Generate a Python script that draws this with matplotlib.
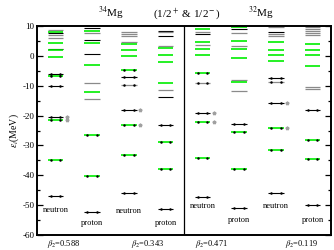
import matplotlib
matplotlib.use('Agg')
import matplotlib.pyplot as plt


# level energies (MeV) for each column, top to bottom
levels = [
    [8.6, 8.0, 7.5, 7.1, 6.0, 4.4, 2.4, 2.0, -0.5, -6.0, -6.9, -10.0, -20.4, -21.6, -35.0, -47.0],
    [9.2, 8.4, 7.8, 5.3, 4.4, 0.6, -3.2, -9.2, -12.0, -14.6, -26.6, -40.4, -52.3],
    [8.0, 7.3, 6.7, 4.6, 3.9, 2.0, 0.0, -4.9, -7.2, -9.6, -18.2, -23.1, -33.3, -45.9],
    [8.3, 7.9, 6.7, 3.2, 2.5, 0.3, -1.9, -9.1, -11.3, -13.8, -23.0, -28.7, -37.9, -51.3],
    [8.9, 8.0, 7.2, 4.7, 3.8, 2.4, 0.2, -5.6, -9.1, -19.1, -22.0, -34.3, -47.4],
    [9.8, 8.9, 7.6, 4.9, 3.3, 2.3, -0.8, -8.2, -8.7, -11.9, -22.7, -25.6, -37.8, -50.9],
    [9.7, 7.9, 7.2, 6.6, 4.7, 2.0, 0.4, -1.8, -7.5, -8.7, -15.7, -24.2, -31.6, -46.0],
    [9.8, 9.1, 8.4, 7.8, 7.1, 3.9, 2.0, 0.4, -3.4, -10.4, -11.1, -18.0, -28.1, -34.6, -50.1],
]
# k = black, g = green, m = grey (mixed)
kinds = [
    'mgkmmgkggkgkkggk',
    'kgmkgkgmgmggk',
    'mmmmggggkmkggk',
    'kmkmggggmkkggk',
    'gmkgmgggmkggk',
    'gkmgmggmgmkggk',
    'mkmmggggkmkggk',
    'mmmmmggggmmkggk',
]
# number of occupied levels (drawn with end dots)
occupied = [7, 3, 7, 4, 6, 4, 6, 4]
# levels marked with an asterisk
starred = [[-20.4, -21.6], [], [-18.2, -23.1], [], [-19.1, -22.0], [], [-15.7, -24.2], []]
particle = ['neutron', 'proton'] * 4
betas = ['0.588', '0.343', '0.471', '0.119']
nuclei = ['$^{34}$Mg', '(1/2$^+$ & 1/2$^-$)', '$^{32}$Mg']

colmap = {'k': 'black', 'g': '#00ee00', 'm': '#8a8a8a'}
widths = {'k': 0.8, 'g': 1.2, 'm': 0.9}

plt.rcParams['font.family'] = ['Liberation Serif', 'DejaVu Serif']
plt.rcParams['mathtext.fontset'] = 'stix'
plt.rcParams['axes.unicode_minus'] = False

fig = plt.figure(figsize=(3.34, 2.5), dpi=100)
ax = fig.add_axes([0.111, 0.06, 0.88, 0.836])

hw = 0.21
for i, col in enumerate(levels):
    xc = i + 0.5
    for j, e in enumerate(col):
        k = kinds[i][j]
        ax.plot([xc - hw, xc + hw], [e, e], color=colmap[k], lw=widths[k],
                solid_capstyle='butt')
    # occupied levels get small end dots
    for e in col[len(col) - occupied[i]:]:
        ax.plot([xc - 0.13, xc + 0.13], [e, e], ls='none', marker='.', ms=1.6, color='black')
    for e in starred[i]:
        ax.plot(xc + 0.31, e, marker='*', ms=2.6, color='#a0a0a0', ls='none')

# particle labels under the columns
lab_y = [-51.5, -56.0, -52.0, -56.0, -50.3, -55.0, -50.2, -55.0]
for i, name in enumerate(particle):
    ax.text(i + 0.5, lab_y[i], name, ha='center', va='center', fontsize=6)

# beta_2 labels under the axis
beta_x = [0.73, 3.02, 4.76, 7.21]
for b, x in zip(betas, beta_x):
    ax.text(x, -62.9, r'$\beta_2$=' + b, ha='center', va='center', fontsize=6, clip_on=False)

# titles above the axis
for t, x in zip(nuclei, [2.0, 4.08, 6.1]):
    ax.text(x, 13.0, t, ha='center', va='baseline', fontsize=8, clip_on=False)

ax.axvline(4.0, color='black', lw=0.9)
ax.set_xlim(0, 8)
ax.set_ylim(-60, 10)
ax.set_xticks([])
ax.set_yticks(range(-60, 11, 10))
ax.set_yticks(range(-55, 10, 10), minor=True)
ax.tick_params(axis='y', which='major', direction='in', length=4, width=0.9, right=True,
               labelsize=6.5, pad=2)
ax.tick_params(axis='y', which='minor', direction='in', length=2, width=0.9, right=True)
for s in ax.spines.values():
    s.set_linewidth(1.4)
ax.set_ylabel(r'$\varepsilon_i$(MeV)', fontsize=7, labelpad=1)

fig.savefig('out.png', dpi=100)
